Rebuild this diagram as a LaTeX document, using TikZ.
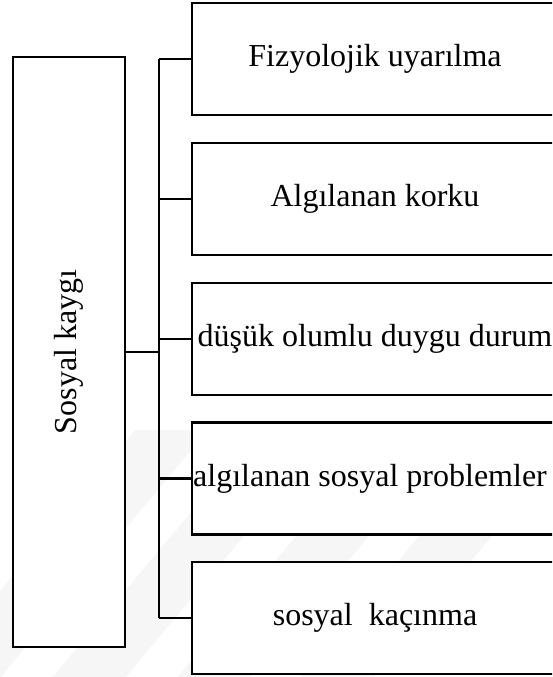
\documentclass[tikz,border=0pt]{standalone}
\usepackage{fontspec}
\setmainfont{Liberation Serif}
\begin{document}
\begin{tikzpicture}[x=1pt,y=-1pt,
  frame/.style={draw=black,line width=2.6pt,fill=white,inner sep=0pt},
  itembox/.style={frame,minimum width=366pt,minimum height=112pt},
  label/.style={font=\fontsize{32}{36}\selectfont,inner sep=0pt},
  link/.style={draw=black,line width=2.6pt}]
\useasboundingbox (0,0) rectangle (552,677);
\clip (0,0) rectangle (552,677);

% faint diagonal bands in the background
\begin{scope}
  \clip (0,430) rectangle (552,677);
  \foreach \s in {36,161,286,409}
    \fill[gray!7] (\s,548) -- ++(73,0) -- ++(-0.84*129,129) -- ++(-73,0) -- cycle
                  (\s,548) -- ++(73,0) -- ++(0.84*118,-118) -- ++(-73,0) -- cycle;
\end{scope}

% main concept
\node[frame,minimum width=112pt,minimum height=590pt] (root) at (69,352) {};
\node[label,rotate=90] (rootlabel) at (root.center) {Sosyal kaygı};

% components
\node[itembox] (b1) at (375,59) {};
\node[itembox] (b2) at (375,199) {};
\node[itembox] (b3) at (375,339) {};
\node[itembox] (b4) at (375,478.5) {};
\node[itembox] (b5) at (375,618) {};

\node[label] (t1) at (b1.center) {Fizyolojik uyarılma};
\node[label] (t2) at (b2.center) {Algılanan korku};
\node[label] (t3) at (b3.center) {düşük olumlu duygu durum};
\node[label,xshift=-5pt] (t4) at (b4.center) {algılanan sosyal problemler};
\node[label] (t5) at (b5.center) {sosyal\ \ kaçınma};

% spine joining the components
\coordinate (spinetop) at (159,59);
\coordinate (spinebot) at (159,618);
\coordinate (spinemid) at (159,352);
\draw[link] (spinetop) -- (spinebot);
\draw[link] (root.east |- spinemid) -- (spinemid);
\foreach \b in {b1,b2,b3,b4,b5}
  \draw[link] (spinetop |- \b.west) -- (\b.west);
\end{tikzpicture}
\end{document}
